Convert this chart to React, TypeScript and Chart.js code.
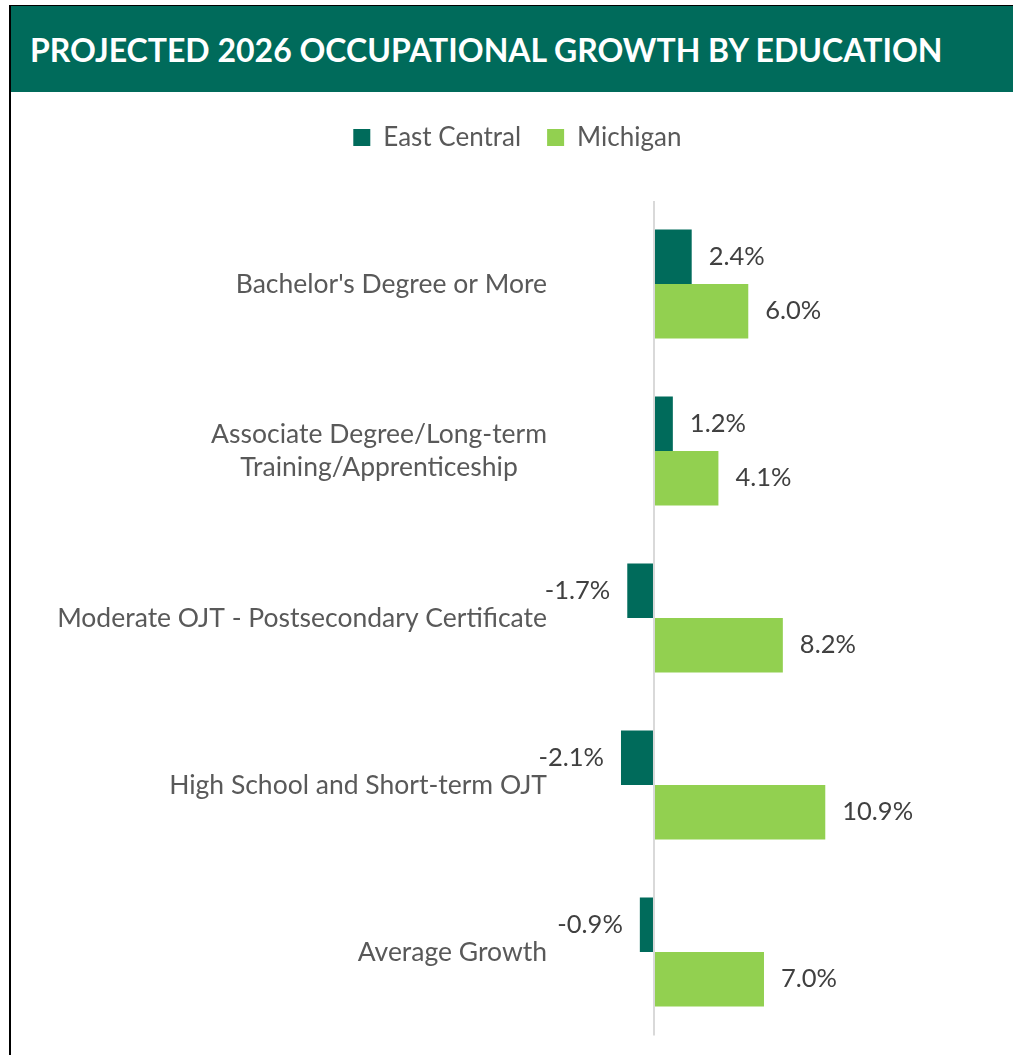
import React, { useEffect, useRef } from "react";
import { Chart, registerables } from "chart.js";

Chart.register(...registerables);

const TITLE = "PROJECTED 2026 OCCUPATIONAL GROWTH BY EDUCATION";
const categories: string[][] = [
  ["Bachelor's Degree or More"],
  ["Associate Degree/Long-term", "Training/Apprenticeship"],
  ["Moderate OJT - Postsecondary Certificate"],
  ["High School and Short-term OJT"],
  ["Average Growth"],
];
const seriesNames = ["East Central", "Michigan"];
const eastCentral = [2.4, 1.2, -1.7, -2.1, -0.9];
const michigan = [6.0, 4.1, 8.2, 10.9, 7.0];
const axisMin = -6;
const axisMax = 22;

const DARK = "#006B5B";
const LIGHT = "#92D050";
const FONT = "Lato";

const categoryLabelPlugin = {
  id: "categoryLabels",
  afterDraw(chart: any) {
    const y = chart.scales.y;
    const ctx = chart.ctx;
    ctx.save();
    ctx.font = `26.5px ${FONT}`;
    ctx.fillStyle = "#595959";
    ctx.textBaseline = "middle";
    ctx.textAlign = "center";
    const right = chart.chartArea.left - 12.7;
    const lh = 33;
    categories.forEach((lines, i) => {
      const cy = y.getPixelForValue(i);
      const w = Math.max(...lines.map((l) => ctx.measureText(l).width));
      const cx = right - w / 2;
      lines.forEach((l, j) => {
        ctx.fillText(l, cx, cy + (j - (lines.length - 1) / 2) * lh);
      });
    });
    ctx.restore();
  },
};

const valueLabelPlugin = {
  id: "valueLabels",
  afterDatasetsDraw(chart: any) {
    const ctx = chart.ctx;
    ctx.save();
    ctx.font = `25.5px ${FONT}`;
    ctx.fillStyle = "#404040";
    ctx.textBaseline = "middle";
    chart.data.datasets.forEach((ds: any, di: number) => {
      const meta = chart.getDatasetMeta(di);
      meta.data.forEach((bar: any, i: number) => {
        const v = ds.data[i] as number;
        const txt = v.toFixed(1) + "%";
        if (v >= 0) {
          ctx.textAlign = "left";
          ctx.fillText(txt, bar.x + 17, bar.y);
        } else {
          ctx.textAlign = "right";
          ctx.fillText(txt, bar.x - 17, bar.y);
        }
      });
    });
    ctx.restore();
  },
};

export default function App() {
  const ref = useRef<HTMLCanvasElement | null>(null);

  useEffect(() => {
    if (!ref.current) return;
    const chart = new Chart(ref.current, {
      type: "bar",
      data: {
        labels: categories.map((c) => c.join(" ")),
        datasets: [
          {
            label: seriesNames[0],
            data: eastCentral,
            backgroundColor: DARK,
            borderWidth: 0,
            categoryPercentage: 0.653,
            barPercentage: 1,
          },
          {
            label: seriesNames[1],
            data: michigan,
            backgroundColor: LIGHT,
            borderWidth: 0,
            categoryPercentage: 0.653,
            barPercentage: 1,
          },
        ],
      },
      options: {
        indexAxis: "y",
        responsive: false,
        animation: false,
        layout: { padding: { top: 6.5, bottom: 19.5, left: 24, right: 13.3 } },
        plugins: {
          legend: {
            position: "top",
            labels: {
              boxWidth: 17,
              boxHeight: 17,
              padding: 26,
              color: "#595959",
              font: { family: FONT, size: 26 },
            },
          },
          tooltip: { enabled: false },
          title: { display: false },
        },
        scales: {
          x: {
            position: "top",
            min: axisMin,
            max: axisMax,
            ticks: { display: false, stepSize: 1 },
            border: { display: false },
            grid: {
              drawTicks: false,
              lineWidth: 2,
              color: (c: any) => (c.tick && c.tick.value === 0 ? "#D9D9D9" : "rgba(0,0,0,0)"),
            },
            afterFit: (s: any) => {
              s.height = 40;
            },
          },
          y: {
            ticks: { display: false },
            border: { display: false },
            grid: { display: false },
            afterFit: (s: any) => {
              s.width = 524.7;
            },
          },
        },
      },
      plugins: [categoryLabelPlugin, valueLabelPlugin],
    });
    return () => chart.destroy();
  }, []);

  return (
    <div style={{ position: "fixed", left: 0, top: 0, width: 1013, height: 1055, background: "#fff" }}>
      <div
        style={{
          position: "absolute",
          left: 9,
          top: 5,
          width: 1004,
          height: 1050,
          boxSizing: "border-box",
          borderLeft: "2px solid #000",
          borderTop: "1px solid #000",
        }}
      />
      <div
        style={{
          position: "absolute",
          left: 11,
          top: 6,
          width: 1002,
          height: 86,
          background: DARK,
          display: "flex",
          alignItems: "center",
          paddingLeft: 19,
          boxSizing: "border-box",
          color: "#fff",
          fontFamily: FONT,
          fontWeight: 700,
          fontSize: 32,
          whiteSpace: "nowrap",
        }}
      >
        {TITLE}
      </div>
      <canvas
        ref={ref}
        width={1002}
        height={963}
        style={{ position: "absolute", left: 11, top: 92, width: 1002, height: 963 }}
      />
    </div>
  );
}
